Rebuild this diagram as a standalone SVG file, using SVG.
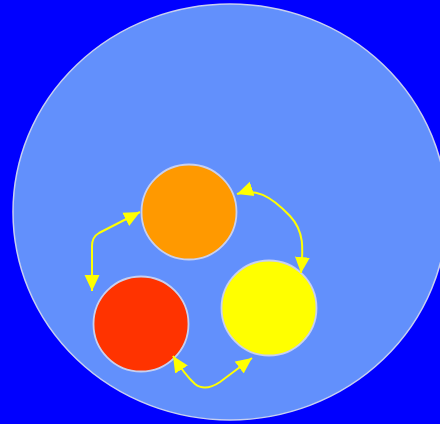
<svg xmlns="http://www.w3.org/2000/svg" width="440" height="424" viewBox="0 0 440 424">
<defs>
<style>
.node{stroke:#C8D0F0;stroke-width:1.8}
.conn{fill:none;stroke:#FFFF00;stroke-width:2;marker-start:url(#ah);marker-end:url(#ah)}
</style>
<marker id="ah" markerUnits="userSpaceOnUse" markerWidth="16" markerHeight="16" viewBox="0 0 15 14" refX="15" refY="7" orient="auto-start-reverse">
<path d="M0,0 L15,7 L0,14 Z" fill="#FFFF00"/>
</marker>
</defs>
<rect width="440" height="424" fill="#0000FF"/>
<g id="container">
<ellipse cx="230" cy="212" rx="217" ry="208" fill="#6290FC" stroke="#C8D0F0" stroke-width="1.5"/>
</g>
<g id="orange"><circle class="node" cx="189" cy="212" r="47.5" fill="#FF9900"/></g>
<g id="red"><circle class="node" cx="141" cy="324" r="47.5" fill="#FF3300"/></g>
<g id="yellow"><circle class="node" cx="269" cy="308" r="47.5" fill="#FFFF00"/></g>
<g id="connectors">
<path class="conn" d="M140,212 L99,233 Q92,237 92,246 L92,291"/>
<path class="conn" d="M237,194 C255,188 270,195 290,216 C305,232 303,250 301,273"/>
<path class="conn" d="M173,356 Q185,375 195,384 Q205,392 220,382 L252,358"/>
</g>
</svg>
